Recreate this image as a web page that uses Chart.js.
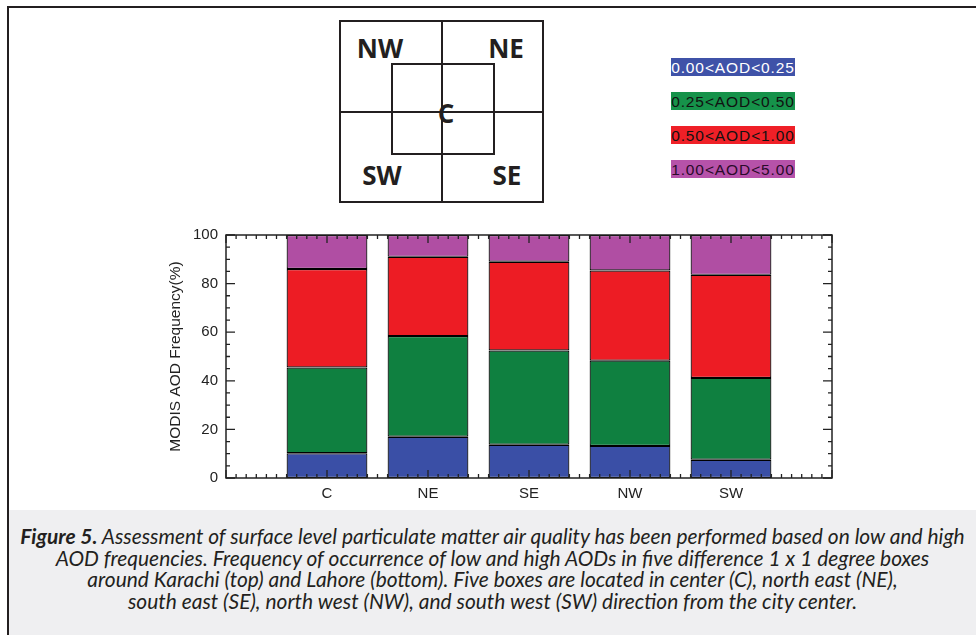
<!DOCTYPE html>
<html>
<head>
<meta charset="utf-8">
<script src="https://cdn.jsdelivr.net/npm/chart.js@4/dist/chart.umd.min.js"></script>
<style>
  html, body { margin: 0; padding: 0; background: #fff; }
  #page { position: relative; width: 976px; height: 635px; overflow: hidden; }
  #frame { position: absolute; left: 7px; top: 6px; right: -4px; bottom: -4px;
           border-top: 2px solid #231f20; border-left: 2px solid #231f20; }
  #boxes { position: absolute; left: 0; top: 0; }
  #boxes text { font-family: "Open Sans", sans-serif; font-weight: 700; font-size: 26px; fill: #231f20; }
  #legend { position: absolute; left: 671px; top: 58px; }
  .leg { position: absolute; left: 0; width: 124px; height: 18px; line-height: 19px;
         font-family: "Liberation Sans", Arial, sans-serif; font-size: 15.5px; letter-spacing: 0.9px;
         text-align: center; white-space: nowrap; overflow: hidden; }
  #chartBox { position: absolute; left: 140px; top: 218px; width: 720px; height: 290px; }
  #caption { position: absolute; left: 9px; top: 510px; width: 967px; height: 125px; background: #efeff1;
             font-family: "Lato", sans-serif; font-style: italic; font-size: 19px; color: #231f20;
             text-align: center; line-height: 21.5px; padding-top: 15px; box-sizing: border-box; }
  #caption .ln { white-space: nowrap; }
  #caption b { font-weight: 700; }
</style>
</head>
<body>
<div id="page">
  <div id="frame"></div>

  <!-- location sketch of the five 1x1 degree boxes -->
  <svg id="boxes" width="976" height="215">
    <g stroke="#231f20" stroke-width="2" fill="none">
      <rect x="340" y="21" width="203" height="181"/>
      <line x1="442" y1="21" x2="442" y2="202"/>
      <line x1="340" y1="112" x2="543" y2="112"/>
      <rect x="392" y="64" width="102" height="90"/>
    </g>
    <text x="380" y="58" text-anchor="middle">NW</text>
    <text x="506" y="58" text-anchor="middle">NE</text>
    <text x="446" y="123" text-anchor="middle">C</text>
    <text x="382" y="185" text-anchor="middle">SW</text>
    <text x="507" y="185" text-anchor="middle">SE</text>
  </svg>

  <div id="legend"></div>

  <div id="chartBox"><canvas id="aodChart" width="720" height="290"></canvas></div>

  <div id="caption">
    <span class="ln" id="capFirst"><b>Figure 5.</b> Assessment of surface level particulate matter air quality has been performed based on low and high</span><br>
    <span class="ln">AOD frequencies. Frequency of occurrence of low and high AODs in five difference 1 x 1 degree boxes</span><br>
    <span class="ln">around Karachi (top) and Lahore (bottom). Five boxes are located in center (C), north east (NE),</span><br>
    <span class="ln">south east (SE), north west (NW), and south west (SW) direction from the city center.</span>
  </div>
</div>

<script>
// Boxes around the city (x axis categories)
const categories = ['C', 'NE', 'SE', 'NW', 'SW'];

// Frequency (%) of each AOD class
const aodLow = [10.2, 17.0, 13.7, 13.2, 7.5];       // 0.00<AOD<0.25
const aodMid = [35.3, 41.4, 38.8, 35.1, 33.7];      // 0.25<AOD<0.50
const aodHigh = [40.5, 32.6, 36.5, 37.1, 42.4];     // 0.50<AOD<1.00
const aodVeryHigh = [14.0, 9.0, 11.0, 14.6, 16.4];  // 1.00<AOD<5.00

const classLabels = ['0.00<AOD<0.25', '0.25<AOD<0.50', '0.50<AOD<1.00', '1.00<AOD<5.00'];
const yTickValues = [0, 20, 40, 60, 80, 100];

const fills = ['#3a4fa6', '#0f8040', '#ed1c24', '#b04ea3'];
const legendFills = ['#3f52a8', '#16924a', '#ef2027', '#b652a9'];
const legendText = ['#ffffff', '#111111', '#111111', '#2a0a2a'];

// empty slot on both sides so the bars sit at 1..5 on a 0..6 axis
const labels = [''].concat(categories, ['']);
function padded(arr) { return [null].concat(arr, [null]); }

// legend: text on a coloured strip
function buildLegend() {
    const box = document.getElementById('legend');
    classLabels.forEach((txt, i) => {
        let el = document.createElement('div');
        el.className = 'leg';
        el.style.top = (i * 34) + 'px';
        el.style.background = legendFills[i];
        el.style.color = legendText[i];
        el.textContent = txt;
        box.appendChild(el);
    });
}

// stretch the caption so its first line runs across the box like the original
function fitCaption() {
    const cap = document.getElementById('caption');
    const first = document.getElementById('capFirst');
    const w = first.getBoundingClientRect().width;
    if (w > 0) {
        const size = parseFloat(getComputedStyle(cap).fontSize) * 945 / w;
        cap.style.fontSize = size.toFixed(2) + 'px';
    }
}

// IDL style frame with inward ticks on all four sides
const frameTicks = {
    id: 'frameTicks',
    afterDatasetsDraw(chart) {
        const ctx = chart.ctx;
        const a = chart.chartArea;
        const xs = chart.scales.x, ys = chart.scales.y;
        ctx.save();
        ctx.strokeStyle = '#222';
        ctx.lineWidth = 1.5;
        ctx.strokeRect(a.left, a.top, a.right - a.left, a.bottom - a.top);
        ctx.lineWidth = 1.3;
        ctx.beginPath();
        for (let k = 0; k <= 60; k++) {
            const px = xs.getPixelForValue(k / 10);
            const len = (k % 10 === 0) ? 8 : 4;
            ctx.moveTo(px, a.bottom); ctx.lineTo(px, a.bottom - len);
            ctx.moveTo(px, a.top); ctx.lineTo(px, a.top + len);
        }
        for (let v = 0; v <= 100; v += 5) {
            const py = ys.getPixelForValue(v);
            const len = (v % 20 === 0) ? 9 : 4;
            ctx.moveTo(a.left, py); ctx.lineTo(a.left + len, py);
            ctx.moveTo(a.right, py); ctx.lineTo(a.right - len, py);
        }
        ctx.stroke();
        ctx.restore();
    }
};

function drawChart() {
    const series = [aodLow, aodMid, aodHigh, aodVeryHigh];
    const datasets = series.map((vals, i) => ({
        label: classLabels[i],
        data: padded(vals),
        backgroundColor: fills[i],
        borderColor: '#000',
        borderWidth: 1.2,
        borderSkipped: false,
        inflateAmount: 0,
        categoryPercentage: 0.8,
        barPercentage: 1.0
    }));

    const ctx = document.getElementById('aodChart').getContext('2d');
    new Chart(ctx, {
        type: 'bar',
        data: { labels: labels, datasets: datasets },
        options: {
            responsive: false,
            animation: false,
            devicePixelRatio: 1,
            layout: { padding: { top: 10, right: 28, left: 0, bottom: 0 } },
            plugins: { legend: { display: false }, tooltip: { enabled: false } },
            scales: {
                x: {
                    stacked: true,
                    offset: false,
                    grid: { display: false, drawTicks: false },
                    border: { display: false },
                    ticks: { color: '#222', padding: 7, maxRotation: 0, autoSkip: false,
                             font: { family: 'Liberation Sans', size: 15 } },
                    afterFit: s => { s.height = 30; }
                },
                y: {
                    stacked: true,
                    min: 0, max: 100,
                    afterBuildTicks: s => { s.ticks = yTickValues.map(v => ({ value: v })); },
                    grid: { display: false, drawTicks: false },
                    border: { display: false },
                    ticks: { color: '#222', padding: 8, font: { family: 'Liberation Sans', size: 15 } },
                    title: { display: true, text: 'MODIS AOD Frequency(%)', color: '#222',
                             padding: { top: 26, bottom: 0 },
                             font: { family: 'Liberation Sans', size: 15.5 } },
                    afterFit: s => { s.width = 86; }
                }
            }
        },
        plugins: [frameTicks]
    });
}

window.onload = function () {
    buildLegend();
    fitCaption();
    drawChart();
};
</script>
</body>
</html>
